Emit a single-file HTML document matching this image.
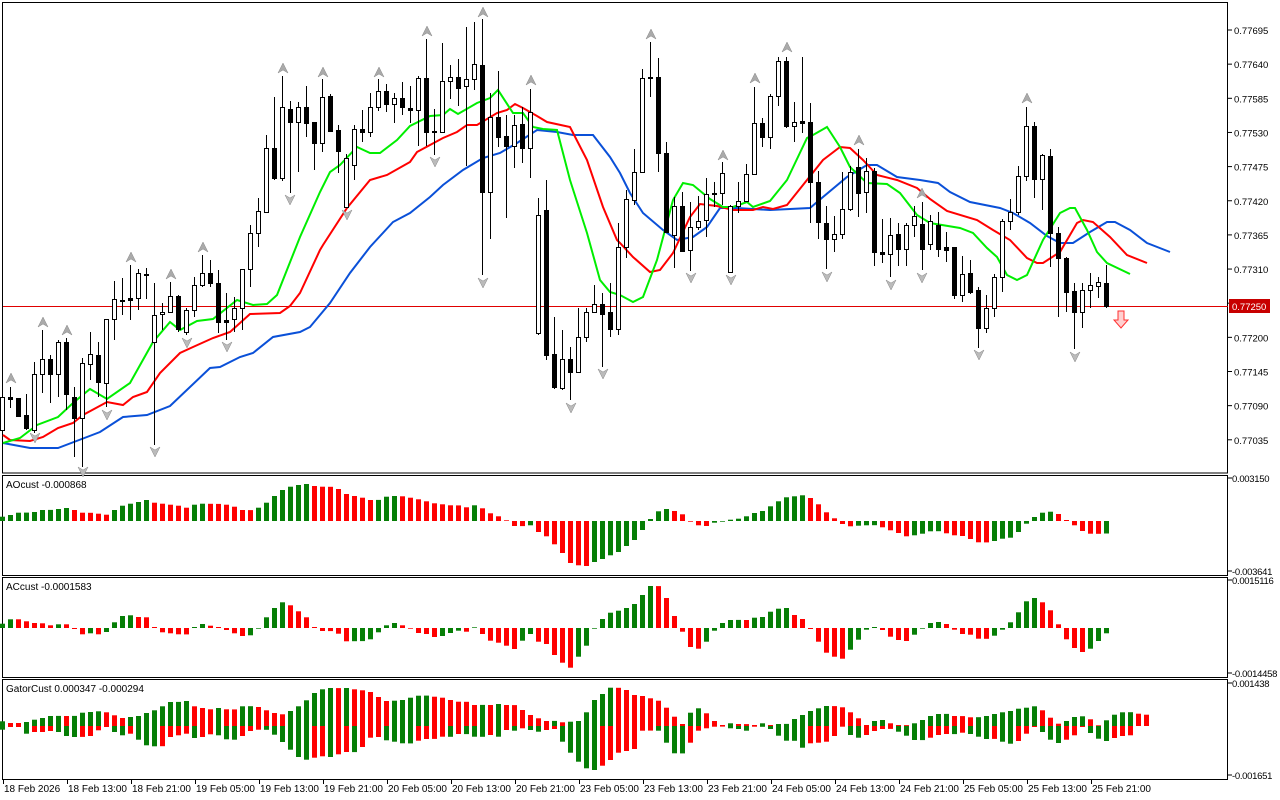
<!DOCTYPE html>
<html><head><meta charset="utf-8"><style>
html,body{margin:0;padding:0;background:#fff;width:1280px;height:800px;overflow:hidden}
svg{display:block}
text{font-family:"Liberation Sans",sans-serif;font-size:10px;fill:#000}
text.ax{font-size:9.5px}
</style></head><body>
<svg id="s" width="1280" height="800" xmlns="http://www.w3.org/2000/svg"></svg>
<script>
var S=document.getElementById('s'),o=[];
function X(i){return 2.3+8*i;}
o.push('<rect x="2.5" y="2.5" width="1225" height="470.5" fill="none" stroke="#000"/>');
[[475,575],[577,677],[679,779]].forEach(function(p){o.push('<rect x="2.5" y="'+(p[0]+.5)+'" width="1225" height="'+(p[1]-p[0])+'" fill="none" stroke="#000"/>');});
var pl=["0.77695","0.77640","0.77585","0.77530","0.77475","0.77420","0.77365","0.77310","0.77255","0.77200","0.77145","0.77090","0.77035"];
pl.forEach(function(t,k){var y=30+34.15*k;o.push('<line x1="1228" x2="1232" y1="'+y+'" y2="'+y+'" stroke="#000"/>');if(k!=8)o.push('<text class="ax" x="1234" y="'+(y+4)+'">'+t+'</text>');});
var sa=[["0.003150",480],["-0.003641",573],["0.0015116",582],["-0.0014458",675],["0.001438",685],["-0.001651",777]];
sa.forEach(function(a){o.push('<line x1="1228" x2="1232" y1="'+(a[1]-2)+'" y2="'+(a[1]-2)+'" stroke="#000"/><text class="ax" x="1232" y="'+(a[1]+2)+'" style="letter-spacing:-0.3px">'+a[0]+'</text>');});
var tl=["18 Feb 2026","18 Feb 13:00","18 Feb 21:00","19 Feb 05:00","19 Feb 13:00","19 Feb 21:00","20 Feb 05:00","20 Feb 13:00","20 Feb 21:00","23 Feb 05:00","23 Feb 13:00","23 Feb 21:00","24 Feb 05:00","24 Feb 13:00","24 Feb 21:00","25 Feb 05:00","25 Feb 13:00","25 Feb 21:00"];
tl.forEach(function(t,k){var x=3+64*k;o.push('<line x1="'+(x+.5)+'" x2="'+(x+.5)+'" y1="779" y2="784" stroke="#000"/><text x="'+(x+1)+'" y="792">'+t+'</text>');});
o.push('<line x1="3" x2="1228" y1="306.5" y2="306.5" stroke="#e00000"/>');
function pts(a){var s='';for(var i=0;i<a.length;i+=2)s+=a[i]+','+a[i+1]+' ';return s;}
var blue=[3,443,30,448,58,448,87,437,100,432,123,417,147,415,170,406,210,368,220,367,240,357,253,353,273,337,300,332,310,327,330,303,350,273,370,247,393,222,410,213,430,197,443,185,463,170,483,158,500,153,517,143,537,130,557,132,573,135,593,135,610,157,620,173,630,193,643,213,663,230,677,240,693,237,707,227,720,208,737,208,770,210,810,208,823,197,847,177,867,165,877,165,897,177,920,180,938,183,950,192,970,202,1000,208,1013,213,1030,223,1047,236,1060,243,1073,243,1090,232,1107,222,1115,222,1130,230,1147,243,1170,252];
var red=[3,435,10,440,30,441,43,437,58,428,73,423,83,415,107,402,123,405,133,397,147,392,160,373,180,353,193,347,213,338,230,332,250,314,280,313,290,306,300,293,320,250,323,245,347,208,370,180,387,175,410,162,417,152,443,138,457,132,467,125,477,125,497,113,507,110,515,104,523,108,537,116,547,122,570,127,587,160,603,207,617,240,620,243,633,257,650,272,660,270,673,253,690,217,700,204,717,206,733,210,753,210,763,207,773,209,787,205,803,185,823,160,840,147,850,148,863,160,877,175,897,180,917,188,930,199,947,211,977,220,993,230,1010,240,1027,258,1037,263,1043,263,1060,252,1077,223,1083,220,1093,222,1110,237,1127,255,1147,263];
var grn=[3,443,20,438,37,425,58,417,73,403,90,389,107,399,130,383,153,342,170,322,180,330,197,321,213,319,237,300,253,305,267,304,277,295,300,237,320,192,330,172,340,165,357,147,370,153,380,153,397,140,410,126,430,116,443,115,450,109,458,114,477,103,490,98,498,90,513,113,523,113,533,127,543,129,557,130,570,180,587,233,600,280,610,292,620,295,633,302,643,297,657,260,673,200,683,183,693,185,710,199,723,207,733,207,747,202,753,207,770,201,787,180,807,138,813,135,827,127,840,147,850,167,867,183,887,184,900,193,917,215,930,223,960,228,973,233,987,248,997,257,1007,275,1017,280,1027,275,1043,240,1060,213,1070,208,1075,208,1087,230,1097,252,1107,263,1130,274];
o.push('<polyline points="'+pts(blue)+'" fill="none" stroke="#0a50d8" stroke-width="2"/>');
o.push('<polyline points="'+pts(red)+'" fill="none" stroke="#ff0000" stroke-width="2"/>');
o.push('<polyline points="'+pts(grn)+'" fill="none" stroke="#00ee00" stroke-width="2"/>');
var C=[[1,397,430,390,433],[0,397,399,387,408],[0,398,416,398,416],[0,415,428,394,430],[1,374,430,362,433],[1,359,374,330,393],[0,359,374,355,403],[1,342,374,340,397],[0,342,394,338,410],[0,397,418,387,457],
[1,363,418,358,467],[1,354,364,332,380],[0,355,382,342,397],[1,319,383,319,407],[1,299,319,281,340],[1,300,301,278,315],[0,298,300,265,320],[1,273,298,269,310],[0,274,275,268,299],[1,315,342,283,445],
[1,312,314,303,330],[1,296,312,282,313],[0,296,329,295,332],[1,310,332,308,335],[1,285,310,277,317],[1,273,285,255,287],[0,273,283,260,287],[0,283,322,270,333],[0,320,322,293,340],[1,308,319,297,332],
[1,269,308,269,330],[1,233,269,225,287],[1,211,233,198,247],[1,148,212,135,213],[0,148,178,97,180],[1,107,178,76,181],[0,109,122,101,193],[1,107,122,102,172],[0,107,123,86,137],[0,122,143,122,170],
[1,97,143,79,152],[0,96,131,94,132],[0,130,151,125,173],[1,158,207,154,208],[1,129,165,125,180],[0,129,132,110,142],[1,107,132,93,137],[1,91,107,79,111],[0,91,104,84,112],[1,98,104,93,123],
[0,98,107,82,115],[0,108,110,86,123],[1,78,110,76,146],[0,78,132,39,146],[0,131,132,109,155],[1,81,132,43,133],[1,77,81,65,99],[0,77,88,59,106],[1,79,86,27,166],[1,64,79,22,90],
[0,65,192,19,275],[1,117,192,93,239],[0,117,137,71,147],[0,136,146,115,218],[1,125,146,115,168],[0,124,148,107,163],[1,112,148,89,178],[1,215,333,198,335],[0,210,355,180,360],[0,354,387,317,389],
[1,359,388,330,390],[0,359,372,347,400],[1,337,372,308,373],[1,312,337,308,342],[1,304,312,285,313],[0,304,314,293,367],[0,312,329,283,337],[1,247,329,223,335],[1,199,247,190,258],[1,172,200,149,205],
[1,78,172,69,173],[0,77,78,42,97],[0,77,153,58,172],[0,153,232,142,233],[1,206,235,197,268],[0,206,251,192,252],[1,227,250,202,271],[1,221,227,196,230],[1,194,220,178,237],[0,193,194,182,207],
[1,173,193,162,205],[1,206,272,205,272],[1,201,206,182,213],[1,174,201,164,202],[1,123,174,87,175],[0,123,137,118,147],[1,96,137,94,149],[1,61,96,57,106],[0,61,126,57,128],[1,122,126,102,142],
[0,121,123,57,133],[0,122,182,103,223],[0,182,222,171,239],[0,223,239,206,269],[1,234,239,216,252],[1,209,234,172,239],[1,172,209,166,211],[0,167,193,149,217],[1,171,192,158,213],[0,171,252,168,266],
[0,252,254,219,263],[1,235,254,218,277],[0,234,249,223,266],[1,225,249,223,266],[1,216,225,206,237],[0,224,249,202,270],[1,221,244,215,250],[0,225,249,212,257],[0,247,250,232,262],[0,247,295,247,299],
[1,274,295,256,302],[0,273,292,260,294],[0,290,328,287,348],[1,308,328,295,333],[1,277,308,274,317],[1,221,277,219,292],[1,212,221,199,230],[1,176,212,166,215],[1,126,176,107,181],[0,126,179,122,198],
[1,155,179,154,210],[0,156,233,149,267],[0,233,258,227,317],[0,258,292,257,312],[0,291,312,283,349],[1,290,312,283,328],[1,285,290,273,308],[1,282,286,277,298],[0,283,306,265,308]];
C.forEach(function(c,i){var x=Math.round(X(i))+.5;o.push('<line x1="'+x+'" x2="'+x+'" y1="'+c[3]+'" y2="'+c[4]+'" stroke="#000"/>');
var h=Math.max(1,c[2]-c[1]);o.push('<rect x="'+(x-2)+'" y="'+(c[1]+.5)+'" width="4" height="'+h+'" fill="'+(c[0]?'#fff':'#000')+'" stroke="#000"/>');});
var up=[[11,378],[43,322],[67,330],[131,257],[171,274],[203,247],[283,68],[323,72],[379,72],[427,31],[483,12],[531,80],[651,34],[723,155],[755,78],[787,47],[859,140],[922,193],[1027,98]];
var dn=[[35,438],[83,472],[107,415],[155,452],[187,343],[227,347],[290,200],[347,215],[435,162],[483,283],[571,408],[603,374],[691,278],[731,280],[827,277],[891,285],[922,278],[979,355],[1075,357]];
up.forEach(function(p){var x=p[0],y=p[1];o.push('<polygon points="'+x+','+(y-5)+' '+(x+5)+','+(y+5)+' '+x+','+(y+2)+' '+(x-5)+','+(y+5)+'" fill="#aaa" stroke="#888" stroke-width=".5"/>');});
dn.forEach(function(p){var x=p[0],y=p[1];o.push('<polygon points="'+x+','+(y+5)+' '+(x+5)+','+(y-5)+' '+x+','+(y-2)+' '+(x-5)+','+(y-5)+'" fill="#bbb" stroke="#888" stroke-width=".5"/>');});
o.push('<polygon points="1118,311 1124,311 1124,320 1128,320 1121,328 1114,320 1118,320" fill="#ffd0d0" stroke="#ff3030" stroke-width="1"/>');
o.push('<rect x="1229" y="299" width="41" height="14" fill="#c80000"/><text class="ax" x="1232" y="310" style="fill:#fff">0.77250</text>');
var G='#067e06',R='#ff0000';
function hist(v,z){var p=null;v.forEach(function(h,i){var col=(p===null||h>p)?G:R;p=h;if(Math.abs(h)<0.4)h=h<0?-1:1;var x=Math.round(X(i))-2;
o.push('<rect x="'+x+'" y="'+(h>0?z-h:z)+'" width="5" height="'+Math.abs(h)+'" fill="'+col+'"/>');});}
var AO=[4.3,6,8.3,8.4,9,11,11.1,12,13,11,8.3,8.2,7.3,6.3,11,15.3,17.3,19,21,18.3,17.3,16.3,15.3,13.3,16.3,17.3,17.2,17.1,16.3,14.3,11,10.9,13.3,18.3,25,31,34.3,36,37,35,34.3,34.2,32,27,25,23.3,21,21.1,24.3,25,24.7,23.3,21.7,19.7,17.7,16.7,15.7,15.6,13.7,15.7,12.7,7.7,4.7,0.7,-5,-5.1,-4.3,-11,-15.3,-23.3,-32,-42,-44.3,-45,-41,-38,-34.3,-31,-25,-19,-9,2,9.7,12,10,6.7,-0.7,-4.3,-5,-1.7,-0.7,1.3,2.3,4.7,8,10,14.7,19.7,23.7,24.7,25.7,23,16.7,8.7,2.7,-3,-5.3,-4.7,-4.3,-4.2,-6.3,-9.3,-12,-15.3,-14.3,-12.7,-10.3,-10.2,-12.3,-14.3,-15,-18,-21.3,-21.4,-20,-17.7,-16.7,-11,-2.7,4,8.3,9.3,7,1,-4.3,-10,-12.7,-12.8,-12.5];
hist(AO,521);
var AC=[4.3,8.7,8.7,6.7,5,4.7,2.7,3.7,3.7,-1,-6.3,-5.3,-6.3,-4,5.7,12,12.7,11,10.7,0.3,-4.3,-5.3,-6.3,-6.4,1,4,2.3,0,-2,-5.3,-8,-7.3,-0.7,10.7,20,25.7,22.7,16.7,10.7,0.3,-3,-3.1,-5.7,-13.3,-13.2,-13.1,-11.3,-4.3,2.7,5,2.7,-0.7,-5,-6,-9,-8,-5,-2.7,-3.7,0.7,-6,-12.7,-14.7,-17.7,-21,-12.7,-6,-13.7,-16,-27,-34.7,-39.7,-28.7,-17.7,-0.7,9,15.3,17.3,20,24,33,42,41.9,30,12,-3.7,-19,-20.7,-13.7,-2.7,5,8,8.1,8,10.3,11,16.3,19.3,20,13,9,-1,-13.7,-24.7,-28.7,-30.7,-21.7,-11.7,-1.7,1,-2,-8.7,-12,-13,-6.7,-0.7,5,6,4,-1.7,-6,-6.7,-10.7,-10.8,-7.7,-1.7,5.7,15.7,26.7,30,25.7,17.7,3.7,-11.3,-20,-24,-20.7,-13,-5.3];
hist(AC,628);
var GU=[4.7,3,3,4,6.3,8,10,10.1,10,10.1,13.3,14,14.7,13.7,10.7,8,9,10,13,15.7,19.7,24,24.1,25,19.7,18,16.7,18,16.7,16.6,19.7,19.8,19,15.7,13,11.7,15,19.7,25.7,33,36.7,38,37.9,38,36.7,35.7,34,29,25,25.3,26,28.3,30.3,30.4,29.3,28.3,26,24.3,24.2,21,21.1,21,22,21,20.9,16,11,7.7,5,5.1,3.7,4.3,5,13.7,26,32,38.3,38.2,36,31,30,27.7,25.3,18.3,9.3,2,13.3,17.7,12.7,5,1,2.7,2,1.9,1,2.7,1,2,2.1,7,11,15,17.7,20,19.9,18.7,13.7,7.7,1,5,6,2.7,1,0.9,2.7,6,10,12,12.1,10,9.9,8.7,8.8,10,12,13.7,15,17.3,18.3,19.7,15.7,8.3,2.3,5,9,9.7,6.7,0.7,5.7,11.3,13.7,13.8,12.3,11.3];
var GL=[3.7,1,1,7.7,6,6,5,6,10,11,10.9,10,4.3,1,6,9.3,7.7,13.7,19.3,20.3,20.2,11,9.3,7.7,12,11,8.3,9.3,13.3,13.7,10,5,3.7,3.8,8.7,16,23.7,31,33.7,31.7,30.3,31,28.3,26,26.1,21,11.7,11,14.3,15.7,17.3,17.4,14.7,13,12.9,10.7,10.8,8,8.1,10.7,10.8,9,10.7,4,4.7,2.3,4,5.7,4,3,15.7,26.7,35.7,42.3,44,39.7,34,26.7,25,23,4.7,4.6,4.7,16.7,27.3,27.4,16.7,4.7,2.3,0.7,0.6,2.3,3,4.7,0.7,0.8,3,9.7,14.7,14.8,21.7,17.3,16.7,15.7,10,0.7,9,11.7,9,5,3,2.9,5.7,9.7,14,14.1,11.7,9,8,8.1,6.7,8,10.7,13,12.9,15.7,17.7,15,7.7,1,6,13.7,17,13.7,9.3,1,7,12.7,15,12,10,9.3,0,0];
var pu=null,pd=null;
GU.forEach(function(h,i){var x=Math.round(X(i))-2,col=(pu===null||h>pu)?G:R;pu=h;o.push('<rect x="'+x+'" y="'+(726-h)+'" width="5" height="'+h+'" fill="'+col+'"/>');});
GL.forEach(function(h,i){var x=Math.round(X(i))-2,col=(pd===null||h>pd)?G:R;pd=h;if(h>0)o.push('<rect x="'+x+'" y="726" width="5" height="'+h+'" fill="'+col+'"/>');});
o.push('<text x="6" y="488">AOcust -0.000868</text><text x="6" y="590">ACcust -0.0001583</text><text x="6" y="692">GatorCust 0.000347 -0.000294</text>');
S.innerHTML=o.join('');
</script>
</body></html>
